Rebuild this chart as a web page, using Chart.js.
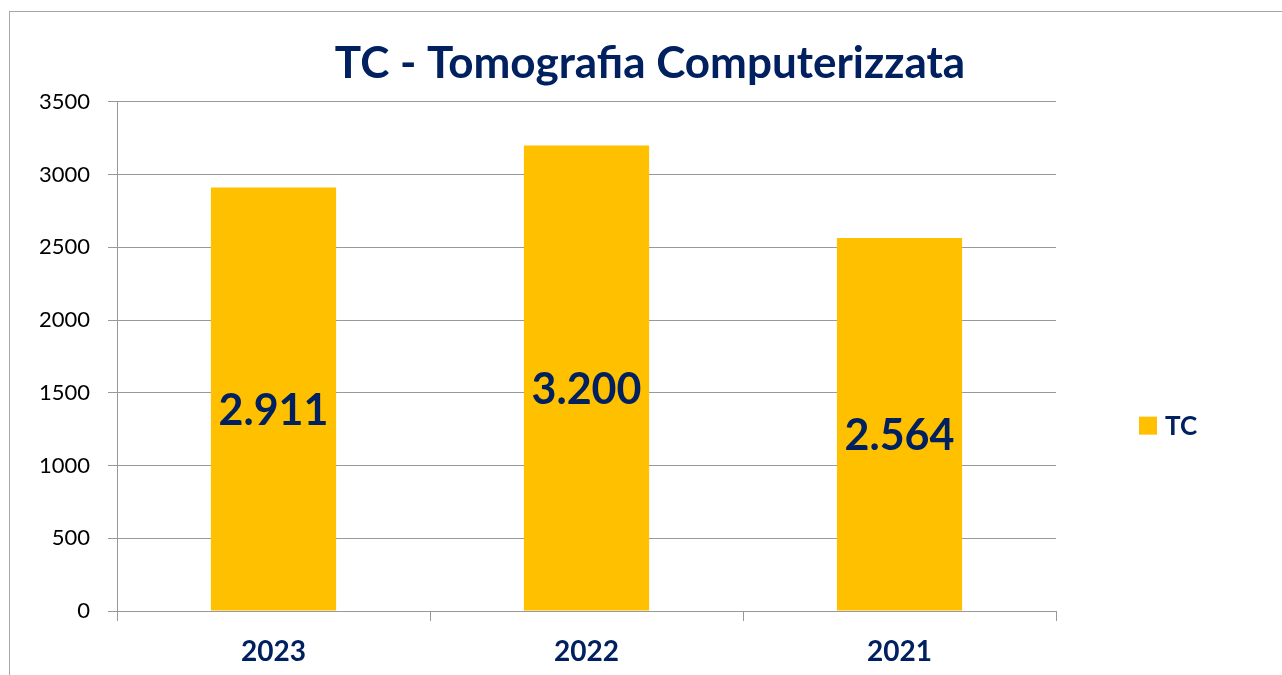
<!DOCTYPE html>
<html>
<head>
<meta charset="utf-8">
<script src="https://cdn.jsdelivr.net/npm/chart.js@4/dist/chart.umd.min.js"></script>
<style>
  html, body { margin: 0; padding: 0; background: #fff; overflow: hidden; }
  #wrap { position: relative; width: 1282px; height: 675px; }
  #frame { position: absolute; left: 9px; top: 11px; width: 1300px; height: 700px; border: 1px solid #a6a6a6; box-sizing: border-box; }
  #c { position: absolute; left: 0; top: 0; }
</style>
</head>
<body>
<div id="wrap">
  <div id="frame"></div>
  <canvas id="c" width="1282" height="675"></canvas>
</div>
<script>
const categories = ['2023', '2022', '2021'];
const seriesName = 'TC';
const values = [2911, 3200, 2564];
const yTicks = [0, 500, 1000, 1500, 2000, 2500, 3000, 3500];
const chartTitle = 'TC - Tomografia Computerizzata';

const NAVY = '#002060';
const GOLD = '#FFC000';
const GRID = '#999999';
const FONT = 'Lato';

function fmt(v) { return String(v).replace(/\B(?=(\d{3})+(?!\d))/g, '.'); }

const labelPlugin = {
  id: 'barLabels',
  afterDatasetsDraw(chart) {
    const ctx = chart.ctx;
    const meta = chart.getDatasetMeta(0);
    ctx.save();
    ctx.font = 'bold 43px ' + FONT;
    ctx.fillStyle = NAVY;
    ctx.textAlign = 'center';
    ctx.textBaseline = 'middle';
    meta.data.forEach((bar, i) => {
      const v = chart.data.datasets[0].data[i];
      const y = (bar.y + bar.base) / 2 + 12;
      ctx.fillText(fmt(v), bar.x, y);
    });
    ctx.restore();
  }
};

const legendPlugin = {
  id: 'sideLegend',
  afterDraw(chart) {
    const ctx = chart.ctx;
    const a = chart.chartArea;
    const ds = chart.data.datasets[0];
    const x = a.right + 83;
    const cy = a.top + (a.bottom - a.top) * 0.636;
    ctx.save();
    ctx.fillStyle = ds.backgroundColor;
    ctx.fillRect(x, cy - 9, 18, 18);
    ctx.font = 'bold 26px ' + FONT;
    ctx.fillStyle = NAVY;
    ctx.textAlign = 'left';
    ctx.textBaseline = 'middle';
    ctx.fillText(ds.label, x + 26, cy + 1);
    ctx.restore();
  }
};

new Chart(document.getElementById('c'), {
  type: 'bar',
  data: {
    labels: categories,
    datasets: [{
      label: seriesName,
      data: values,
      backgroundColor: GOLD,
      borderWidth: 0,
      categoryPercentage: 1.0,
      barPercentage: 0.4
    }]
  },
  options: {
    responsive: false,
    animation: false,
    events: [],
    layout: { padding: { left: 18, right: 0, top: 0, bottom: 0 } },
    plugins: {
      legend: { display: false },
      tooltip: { enabled: false },
      title: {
        display: true,
        text: chartTitle,
        color: NAVY,
        font: { family: FONT, size: 44, weight: 'bold', lineHeight: 1.2 },
        padding: { top: 37, bottom: 12 }
      }
    },
    scales: {
      x: {
        offset: true,
        grid: { display: true, offset: true, drawOnChartArea: false, drawTicks: true, tickLength: 10, color: GRID, lineWidth: 1 },
        border: { display: true, color: GRID, width: 1 },
        ticks: { color: NAVY, font: { family: FONT, size: 28, weight: 'bold' }, padding: 14 },
        afterFit(s) { s.height = 64; }
      },
      y: {
        min: 0,
        max: 3500,
        afterBuildTicks(s) { s.ticks = yTicks.map(v => ({ value: v })); },
        grid: { display: true, drawOnChartArea: true, drawTicks: true, tickLength: 9, color: GRID, lineWidth: 1 },
        border: { display: true, color: GRID, width: 1 },
        ticks: { color: '#000000', font: { family: FONT, size: 22 }, padding: 18, callback: (v) => String(v) },
        afterFit(s) { s.width = 99; }
      },
      yR: {
        type: 'linear',
        position: 'right',
        display: true,
        grid: { display: false, drawTicks: false },
        border: { display: false },
        ticks: { display: false },
        afterFit(s) { s.width = 226; }
      }
    }
  },
  plugins: [labelPlugin, legendPlugin]
});
</script>
</body>
</html>
